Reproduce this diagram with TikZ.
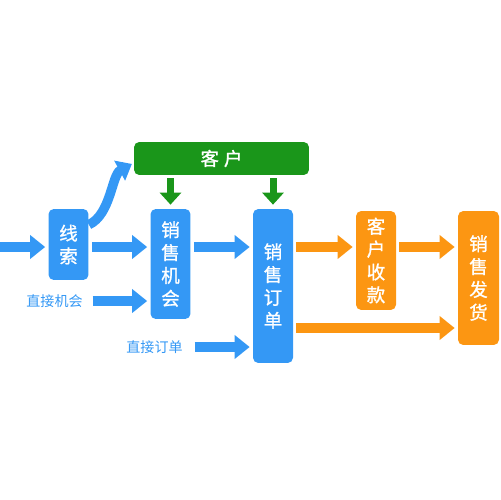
\documentclass[tikz,border=0pt]{standalone}
\usepackage{fontspec}
\newfontfamily\cjk{Noto Sans CJK SC}
\newfontfamily\cjkb{Noto Sans CJK SC}[FakeBold=1.2]
\usepackage{tikz}
\usetikzlibrary{arrows.meta,positioning,calc}
\definecolor{flowBlue}{RGB}{52,152,245}
\definecolor{flowGreen}{RGB}{26,150,26}
\definecolor{flowOrange}{RGB}{252,150,18}

\tikzset{
  stagebox/.style={rounded corners=3pt, text=white, inner sep=0pt, align=center,
    minimum width=0.8cm, font=\cjkb\fontsize{10.5}{13}\selectfont},
  bluebox/.style={stagebox, fill=flowBlue},
  orangebox/.style={stagebox, fill=flowOrange},
  sidelabel/.style={text=flowBlue, inner sep=1pt, font=\cjk\fontsize{8}{9}\selectfont},
  bigarrow/.style={line width=0.2cm, -{Triangle[width=0.46cm,length=0.3cm]},
    shorten <=0.06cm, shorten >=0.06cm},
  bluearrow/.style={bigarrow, flowBlue},
  orangearrow/.style={bigarrow, flowOrange},
  greenarrow/.style={flowGreen, line width=0.14cm, -{Triangle[width=0.42cm,length=0.24cm]},
    shorten <=0.06cm, shorten >=0.08cm},
}

\begin{document}
\begin{tikzpicture}[x=0.02cm, y=-0.02cm]
    \useasboundingbox (0,0) rectangle (500,500);
    % boxes
    \node[fill=flowGreen, rounded corners=3pt, text=white, minimum width=3.5cm, minimum height=0.66cm,
      font=\cjkb\fontsize{10.5}{13}\selectfont] (kehu) at (221.5,158.5) {客\hspace{0.1cm}户};
    \node[bluebox, minimum height=1.42cm] (xiansuo) at (68.5,244.5) {线\\索};
    \node[bluebox, minimum height=2.2cm] (jihui) at (170.5,264) {销\\售\\机\\会};
    \node[bluebox, minimum height=3.08cm] (dingdan) at (273,286) {销\\售\\订\\单};
    \node[orangebox, minimum height=1.98cm] (shoukuan) at (376,260.5) {客\\户\\收\\款};
    \node[orangebox, minimum width=0.82cm, minimum height=2.68cm] (fahuo) at (478.5,278) {销\\售\\发\\货};
    \node[sidelabel] (zjjihui) at (54.5,301) {直接机会};
    \node[sidelabel] (zjdingdan) at (154.5,347) {直接订单};
    \coordinate (upper) at (0,247);
    \coordinate (lower) at (0,328);
    % blue flow
    \draw[bluearrow, shorten <=0pt] (upper) -- (xiansuo.west |- upper);
    \draw[bluearrow] (xiansuo.east |- upper) -- (jihui.west |- upper);
    \draw[bluearrow] (jihui.east |- upper) -- (dingdan.west |- upper);
    \draw[bluearrow, shorten <=0.16cm] (zjjihui.east) -- (jihui.west |- zjjihui);
    \draw[bluearrow, shorten <=0.2cm] (zjdingdan.east) -- (dingdan.west |- zjdingdan);
    \draw[flowBlue, line width=0.19cm, -{Triangle[width=0.44cm,length=0.28cm]}, shorten >=0.04cm]
      ([yshift=-0.32cm]xiansuo.north east) .. controls +(22,-10) and +(-22,12) .. ([yshift=-0.09cm]kehu.west);
    % green
    \draw[greenarrow] (kehu.south -| jihui.north) -- (jihui.north);
    \draw[greenarrow] (kehu.south -| dingdan.north) -- (dingdan.north);
    % orange flow
    \draw[orangearrow] (dingdan.east |- upper) -- (shoukuan.west |- upper);
    \draw[orangearrow] (shoukuan.east |- upper) -- (fahuo.west |- upper);
    \draw[orangearrow] (dingdan.east |- lower) -- (fahuo.west |- lower);
\end{tikzpicture}
\end{document}
